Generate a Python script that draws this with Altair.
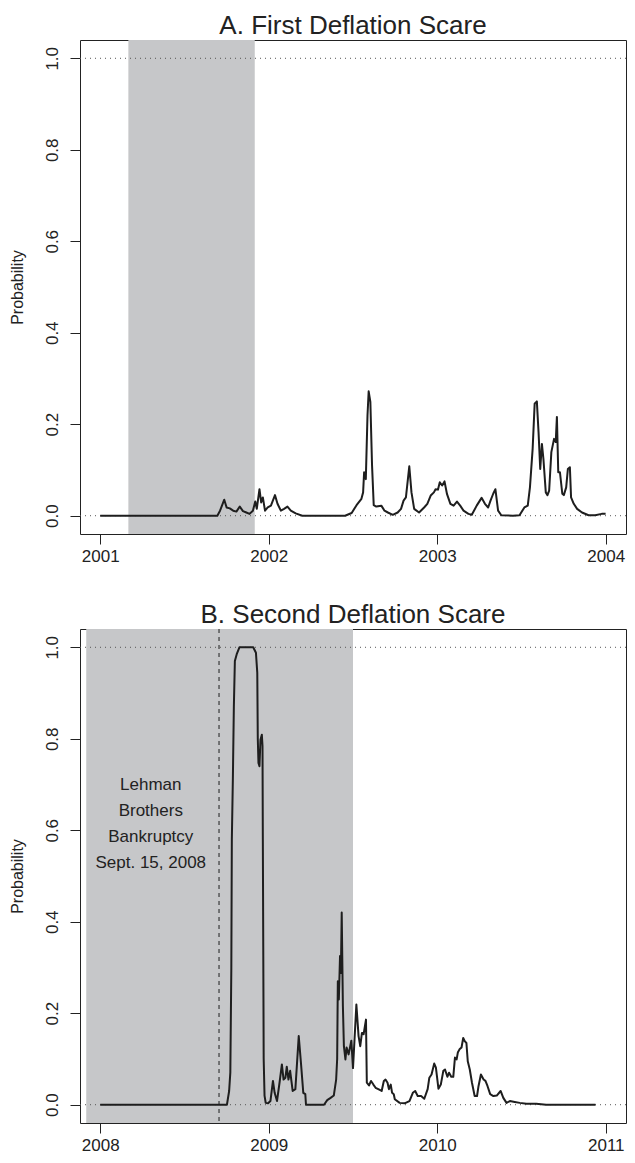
import altair as alt
import pandas as pd

# ---------------- data ----------------
a_year = [2001.0, 2001.695, 2001.711, 2001.736, 2001.750, 2001.769, 2001.789, 2001.808,
          2001.828, 2001.847, 2001.867, 2001.886, 2001.906, 2001.920, 2001.929, 2001.945,
          2001.955, 2001.965, 2001.978, 2001.994, 2002.013, 2002.037, 2002.052, 2002.072,
          2002.091, 2002.111, 2002.131, 2002.160, 2002.199, 2002.355, 2002.453, 2002.492,
          2002.521, 2002.550, 2002.560, 2002.566, 2002.576, 2002.586, 2002.593, 2002.603,
          2002.613, 2002.623, 2002.638, 2002.668, 2002.687, 2002.707, 2002.736, 2002.765,
          2002.785, 2002.800, 2002.814, 2002.834, 2002.847, 2002.863, 2002.892, 2002.922,
          2002.941, 2002.961, 2002.980, 2002.990, 2003.004, 2003.015, 2003.029, 2003.043,
          2003.058, 2003.078, 2003.097, 2003.117, 2003.136, 2003.156, 2003.185, 2003.205,
          2003.234, 2003.263, 2003.283, 2003.302, 2003.316, 2003.332, 2003.345, 2003.361,
          2003.380, 2003.449, 2003.488, 2003.517, 2003.537, 2003.550, 2003.566, 2003.578,
          2003.591, 2003.601, 2003.611, 2003.621, 2003.630, 2003.644, 2003.654, 2003.664,
          2003.677, 2003.693, 2003.703, 2003.710, 2003.718, 2003.728, 2003.742, 2003.751,
          2003.765, 2003.775, 2003.787, 2003.794, 2003.810, 2003.830, 2003.859, 2003.898,
          2003.937, 2003.976, 2003.999]
a_prob = [0.0, 0.0, 0.011, 0.035, 0.018, 0.016, 0.011, 0.009,
          0.020, 0.010, 0.007, 0.004, 0.011, 0.031, 0.015, 0.058,
          0.029, 0.040, 0.011, 0.018, 0.022, 0.045, 0.026, 0.011,
          0.015, 0.020, 0.011, 0.005, 0.0, 0.0, 0.0, 0.006,
          0.023, 0.037, 0.051, 0.095, 0.080, 0.219, 0.272, 0.249,
          0.110, 0.023, 0.020, 0.022, 0.011, 0.007, 0.002, 0.007,
          0.015, 0.033, 0.040, 0.108, 0.051, 0.015, 0.007, 0.018,
          0.026, 0.044, 0.051, 0.058, 0.057, 0.073, 0.066, 0.075,
          0.047, 0.026, 0.022, 0.031, 0.022, 0.011, 0.004, 0.002,
          0.022, 0.039, 0.026, 0.018, 0.033, 0.048, 0.058, 0.011,
          0.001, 0.0, 0.001, 0.018, 0.022, 0.062, 0.146, 0.245,
          0.250, 0.183, 0.102, 0.157, 0.124, 0.051, 0.045, 0.055,
          0.139, 0.168, 0.161, 0.216, 0.095, 0.095, 0.048, 0.045,
          0.062, 0.102, 0.106, 0.040, 0.026, 0.015, 0.007, 0.001,
          0.001, 0.004, 0.004]

b_year = [2008.0, 2008.752, 2008.765, 2008.772, 2008.778, 2008.781, 2008.787, 2008.793,
          2008.799, 2008.810, 2008.826, 2008.908, 2008.924, 2008.932, 2008.935, 2008.939,
          2008.945, 2008.951, 2008.959, 2008.963, 2008.965, 2008.970, 2008.975, 2008.982,
          2008.996, 2009.010, 2009.025, 2009.035, 2009.049, 2009.064, 2009.078, 2009.088,
          2009.099, 2009.107, 2009.117, 2009.127, 2009.142, 2009.158, 2009.178, 2009.191,
          2009.205, 2009.217, 2009.221, 2009.328, 2009.347, 2009.367, 2009.386, 2009.400,
          2009.406, 2009.410, 2009.416, 2009.423, 2009.428, 2009.433, 2009.440, 2009.446,
          2009.455, 2009.462, 2009.474, 2009.490, 2009.500, 2009.520, 2009.533, 2009.543,
          2009.553, 2009.563, 2009.577, 2009.582, 2009.595, 2009.607, 2009.621, 2009.634,
          2009.650, 2009.670, 2009.683, 2009.693, 2009.705, 2009.713, 2009.724, 2009.732,
          2009.742, 2009.748, 2009.777, 2009.806, 2009.835, 2009.855, 2009.869, 2009.884,
          2009.904, 2009.923, 2009.943, 2009.953, 2009.966, 2009.982, 2009.992, 2010.007,
          2010.021, 2010.036, 2010.046, 2010.060, 2010.070, 2010.083, 2010.095, 2010.105,
          2010.115, 2010.122, 2010.132, 2010.144, 2010.154, 2010.163, 2010.173, 2010.181,
          2010.193, 2010.206, 2010.222, 2010.236, 2010.245, 2010.259, 2010.275, 2010.286,
          2010.298, 2010.314, 2010.333, 2010.353, 2010.376, 2010.392, 2010.411, 2010.431,
          2010.460, 2010.490, 2010.529, 2010.587, 2010.646, 2010.939]
b_prob = [0.0, 0.0, 0.03, 0.07, 0.30, 0.58, 0.71, 0.87,
          0.97, 0.985, 1.0, 1.0, 0.988, 0.944, 0.80, 0.747,
          0.740, 0.798, 0.809, 0.784, 0.58, 0.10, 0.02, 0.004,
          0.003, 0.008, 0.052, 0.026, 0.008, 0.048, 0.088, 0.055,
          0.059, 0.083, 0.055, 0.074, 0.030, 0.034, 0.150, 0.092,
          0.026, 0.023, 0.0, 0.0, 0.010, 0.015, 0.020, 0.055,
          0.100, 0.270, 0.230, 0.325, 0.288, 0.420, 0.216, 0.128,
          0.099, 0.125, 0.110, 0.140, 0.080, 0.219, 0.150, 0.128,
          0.157, 0.154, 0.186, 0.048, 0.042, 0.052, 0.044, 0.037,
          0.034, 0.030, 0.052, 0.055, 0.048, 0.034, 0.044, 0.026,
          0.023, 0.012, 0.004, 0.003, 0.008, 0.026, 0.030, 0.019,
          0.019, 0.013, 0.034, 0.059, 0.066, 0.090, 0.081, 0.035,
          0.044, 0.074, 0.077, 0.061, 0.070, 0.061, 0.061, 0.103,
          0.099, 0.114, 0.121, 0.125, 0.146, 0.139, 0.135, 0.095,
          0.077, 0.048, 0.019, 0.019, 0.041, 0.066, 0.055, 0.052,
          0.041, 0.023, 0.019, 0.020, 0.030, 0.015, 0.004, 0.008,
          0.006, 0.004, 0.002, 0.002, 0.0, 0.0]

a_recession = [2001.167, 2001.917]
b_recession = [2007.917, 2009.5]
a_ticks = [2001, 2002, 2003, 2004]
b_ticks = [2008, 2009, 2010, 2011]
y_ticks = [0.0, 0.2, 0.4, 0.6, 0.8, 1.0]
ref_levels = [0.0, 1.0]
lehman_date = [2008.705]
lehman_label = ["Lehman\nBrothers\nBankruptcy\nSept. 15, 2008"]
lehman_label_pos = [2008.30, 0.698]   # centre of first line

FONT = "Liberation Sans"
INK = "#1e1e1e"
W, H = 546, 494


def panel(years, probs, rec, ticks, title, lehman=False):
    span = ticks[-1] - ticks[0]
    xs = alt.Scale(domain=[ticks[0] - 0.04 * span, ticks[-1] + 0.04 * span], nice=False, zero=False)
    ys = alt.Scale(domain=[-0.04, 1.04], nice=False, zero=False)
    xa = alt.Axis(values=ticks, format="d", title=None, labelPadding=4, tickSize=10)
    ya = alt.Axis(values=y_ticks, format=".1f", title="Probability", labelAngle=270,
                  labelAlign="center", labelBaseline="bottom", labelPadding=9,
                  tickSize=10, titlePadding=18)

    rect = alt.Chart(pd.DataFrame({"s": [rec[0]], "e": [rec[1]]})).mark_rect(
        color="#c6c7c9").encode(
        x=alt.X("s:Q", scale=xs, axis=xa), x2="e:Q")
    hl = alt.Chart(pd.DataFrame({"h": ref_levels})).mark_rule(
        color="#555", strokeDash=[1, 4], strokeWidth=1).encode(
        y=alt.Y("h:Q", scale=ys, axis=ya))
    line = alt.Chart(pd.DataFrame({"year": years, "prob": probs})).mark_line(
        color=INK, strokeWidth=2, strokeJoin="round").encode(
        x=alt.X("year:Q", scale=xs, axis=xa),
        y=alt.Y("prob:Q", scale=ys, axis=ya))
    layers = [rect, hl]
    if lehman:
        vl = alt.Chart(pd.DataFrame({"l": lehman_date})).mark_rule(
            color=INK, strokeDash=[4, 4], strokeWidth=1).encode(
            x=alt.X("l:Q", scale=xs, axis=xa))
        txt = alt.Chart(pd.DataFrame({"x": [lehman_label_pos[0]], "y": [lehman_label_pos[1]],
                                      "t": lehman_label})).mark_text(
            lineBreak="\n", lineHeight=26, fontSize=17, font=FONT, color="#222",
            align="center", baseline="middle").encode(
            x=alt.X("x:Q", scale=xs, axis=xa), y=alt.Y("y:Q", scale=ys, axis=ya), text="t:N")
        layers += [vl, txt]
    layers.append(line)
    return alt.layer(*layers).properties(
        width=W, height=H,
        title=alt.TitleParams(title, frame="group", anchor="middle"))


pa = panel(a_year, a_prob, a_recession, a_ticks, "A. First Deflation Scare")
pb = panel(b_year, b_prob, b_recession, b_ticks, "B. Second Deflation Scare", lehman=True)

chart = alt.vconcat(pa, pb, spacing=36).properties(
    padding={"left": 0, "top": 4, "right": 0, "bottom": 0}
).configure_view(stroke="#222", strokeWidth=1).configure_axis(
    grid=False, domain=False, tickColor="#222", labelFontSize=17, labelColor="#222",
    labelFont=FONT, titleFont=FONT, titleFontSize=16, titleFontWeight="normal",
    titleColor="#222").configure_title(
    font=FONT, fontSize=26, fontWeight="normal", color="#222", offset=1)

chart.save("out.html", embed_options={"renderer": "svg", "actions": False})
